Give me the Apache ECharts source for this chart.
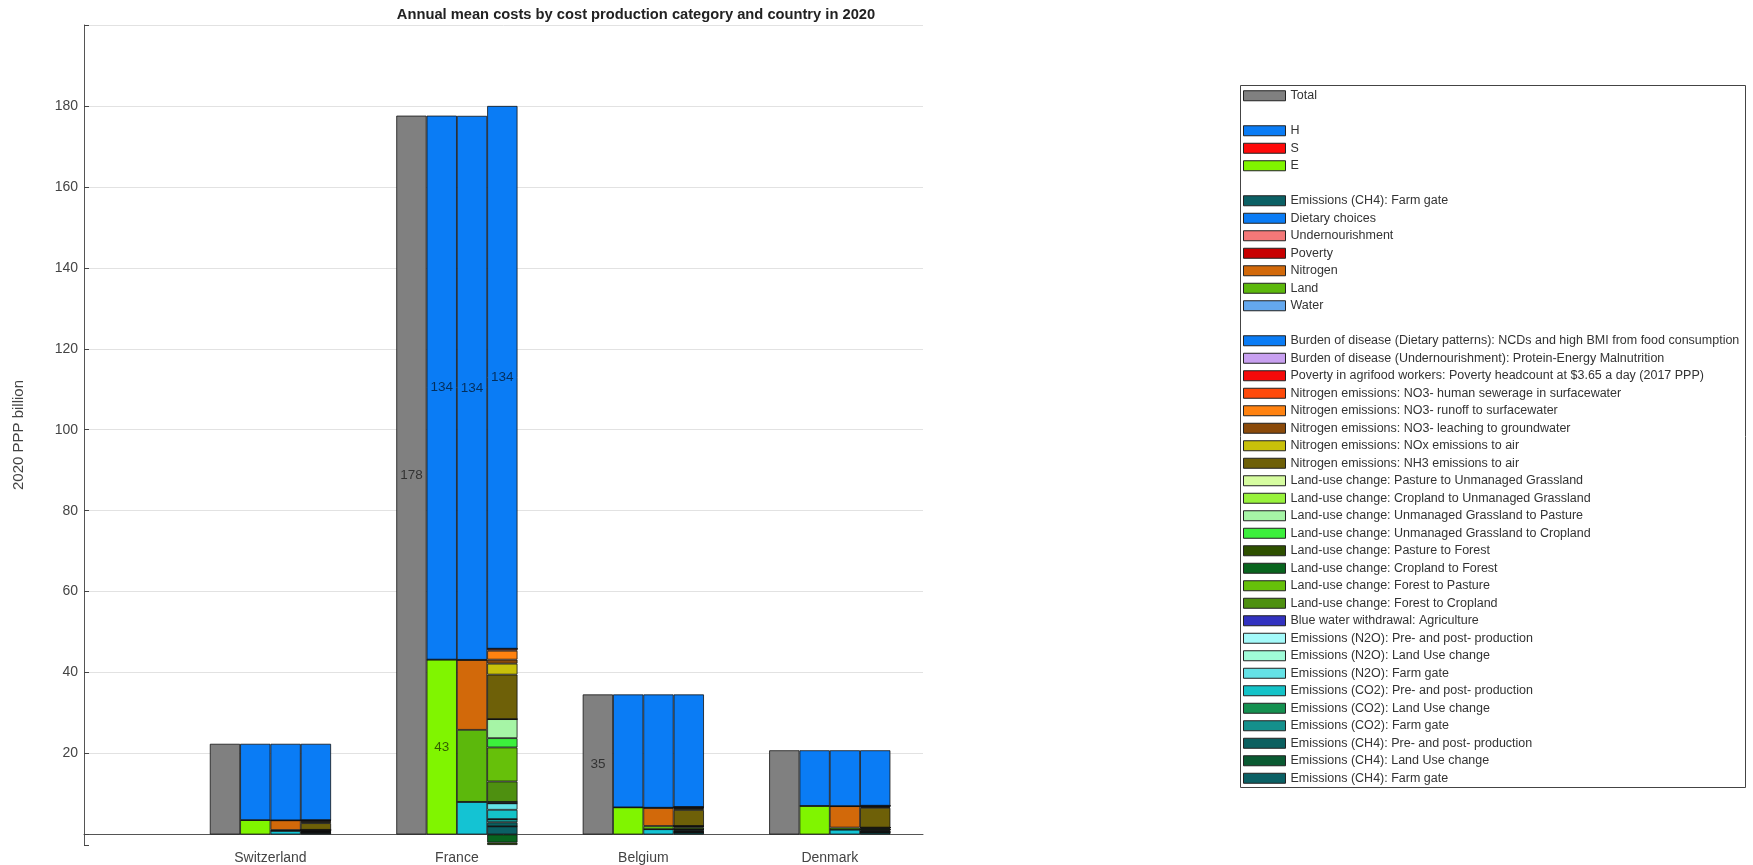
<!DOCTYPE html>
<html>
<head>
<meta charset="utf-8">
<script src="https://cdn.jsdelivr.net/npm/echarts@6/dist/echarts.min.js"></script>
<style>
  html, body { margin: 0; padding: 0; background: #ffffff; }
  #chart { width: 1753px; height: 865px; }
</style>
</head>
<body>
<div id="chart"></div>
<script>
// ---- categories and axis slots ----
const countries = ['Switzerland', 'France', 'Belgium', 'Denmark'];
// half-unit slots from 0 to 4.5; countries sit on the whole units 1..4
const xSlots = ['s0', 's1', 'Switzerland', 's3', 'France', 's5', 'Belgium', 's7', 'Denmark', 's9'];
const yTickLabels = [20, 40, 60, 80, 100, 120, 140, 160, 180];

// ---- total cost per country (2020 PPP billion) ----
const totalCost = [22.4, 177.6, 34.6, 20.8];

// ---- H / S / E split, stacked bottom-up ----
const hseNames = ['E', 'S', 'H'];
const hseColors = ['#80f500', '#ff0a0a', '#0a7cf5'];
const hseSwitzerland = [3.55, 0, 18.85];
const hseFrance = [43.2, 0, 134.4];
const hseBelgium = [6.7, 0, 27.9];
const hseDenmark = [7.05, 0, 13.75];
const hseLegend = ['H', 'S', 'E'];

// ---- cost categories, stacked bottom-up ----
const categoryNames = ['Emissions (CH4): Farm gate', 'Water', 'Land', 'Nitrogen', 'Poverty', 'Undernourishment', 'Dietary choices'];
const categoryColors = ['#14c3d3', '#64a8ee', '#5cb80c', '#d2690a', '#c80000', '#f47878', '#0a7cf5'];
const categorySwitzerland = [0.9, 0, 0.2, 2.4, 0, 0, 18.9];
const categoryFrance = [8.05, 0, 17.8, 17.3, 0, 0, 134.4];
const categoryBelgium = [1.3, 0, 0.8, 4.5, 0, 0, 28.0];
const categoryDenmark = [1.2, 0, 0.5, 5.3, 0, 0, 13.8];
const categoryLegend = ['Emissions (CH4): Farm gate', 'Dietary choices', 'Undernourishment', 'Poverty', 'Nitrogen', 'Land', 'Water'];

// ---- detailed cost items, listed top-down as in the key ----
const detailNames = [
  'Burden of disease (Dietary patterns): NCDs and high BMI from food consumption',
  'Burden of disease (Undernourishment): Protein-Energy Malnutrition',
  'Poverty in agrifood workers: Poverty headcount at $3.65 a day (2017 PPP)',
  'Nitrogen emissions: NO3- human sewerage in surfacewater',
  'Nitrogen emissions: NO3- runoff to surfacewater',
  'Nitrogen emissions: NO3- leaching to groundwater',
  'Nitrogen emissions: NOx emissions to air',
  'Nitrogen emissions: NH3 emissions to air',
  'Land-use change: Pasture to Unmanaged Grassland',
  'Land-use change: Cropland to Unmanaged Grassland',
  'Land-use change: Unmanaged Grassland to Pasture',
  'Land-use change: Unmanaged Grassland to Cropland',
  'Land-use change: Pasture to Forest',
  'Land-use change: Cropland to Forest',
  'Land-use change: Forest to Pasture',
  'Land-use change: Forest to Cropland',
  'Blue water withdrawal: Agriculture',
  'Emissions (N2O): Pre- and post- production',
  'Emissions (N2O): Land Use change',
  'Emissions (N2O): Farm gate',
  'Emissions (CO2): Pre- and post- production',
  'Emissions (CO2): Land Use change',
  'Emissions (CO2): Farm gate',
  'Emissions (CH4): Pre- and post- production',
  'Emissions (CH4): Land Use change',
  'Emissions (CH4): Farm gate'
];
const detailColors = [
  '#0a7cf5', '#c8a0f0', '#f50a0a', '#ff4a0a', '#ff8210', '#8a4a0a', '#c8c00a', '#6e6008',
  '#d6fca0', '#98f23c', '#a6f5a6', '#3cf03c', '#2e5000', '#08641e', '#66c00a', '#4e9010',
  '#3232c0', '#a4fafa', '#a0fcd8', '#64e2e6', '#14c3c8', '#149050', '#14908c', '#0b6060',
  '#0a5a32', '#0b6064'
];
const detailSwitzerland = [18.85, 0, 0, 0.1, 0.25, 0.1, 0.3, 1.65, 0, 0, 0, 0, 0, 0, 0.1, 0.1, 0, 0, 0, 0.15, 0.2, 0, 0.1, 0.1, 0, 0.4];
const detailFrance = [134.1, 0, 0, 0.5, 2.2, 1.0, 2.7, 11.0, 0, 0, 4.7, 2.3, -0.6, -2.0, 8.4, 5.05, 0, 0.35, 0, 1.6, 2.3, 0, 0.8, 1.0, 0, 2.0];
const detailBelgium = [27.8, 0, 0, 0.1, 0.2, 0.15, 0.3, 3.95, 0, 0, 0, 0, 0, 0, 0.3, 0.5, 0, 0, 0, 0.2, 0.3, 0, 0.15, 0.15, 0, 0.5];
const detailDenmark = [13.7, 0, 0, 0.05, 0.15, 0.1, 0.2, 4.9, 0, 0, 0, 0, 0, 0, 0.2, 0.3, 0, 0, 0, 0.2, 0.25, 0, 0.15, 0.1, 0, 0.5];

// colour of the key swatch shared by the two "Emissions (CH4): Farm gate" entries
const ch4FarmGateSwatch = '#0b6064';

// ---- build the bar series ----
const BAR_W = 30.3;
const labelStyle = {
  show: true,
  position: 'inside',
  fontSize: 13.5,
  color: 'rgba(0,0,0,0.62)',
  formatter: p => (p.value[1] >= 30 ? String(Math.round(p.value[1])) : '')
};

function barSeries(name, color, stack, values) {
  return {
    name: name,
    type: 'bar',
    stack: stack,
    barWidth: BAR_W,
    barGap: '0%',
    data: countries.map((c, i) => [c, values[i]]),
    itemStyle: { color: color, borderColor: '#111111', borderWidth: 0.8 },
    label: labelStyle,
    emphasis: { disabled: true }
  };
}

const series = [];
series.push(barSeries('Total', '#808080', 'total', totalCost));

const hseByCountry = [hseSwitzerland, hseFrance, hseBelgium, hseDenmark];
hseNames.forEach((n, k) => {
  series.push(barSeries(n, hseColors[k], 'hse', hseByCountry.map(a => a[k])));
});

const categoryByCountry = [categorySwitzerland, categoryFrance, categoryBelgium, categoryDenmark];
categoryNames.forEach((n, k) => {
  series.push(barSeries(n, categoryColors[k], 'category', categoryByCountry.map(a => a[k])));
});

// detail items stack from the last key entry (bottom) to the first (top)
const detailByCountry = [detailSwitzerland, detailFrance, detailBelgium, detailDenmark];
for (let k = detailNames.length - 1; k >= 0; k--) {
  series.push(barSeries(detailNames[k], detailColors[k], 'detail', detailByCountry.map(a => a[k])));
}

// ---- key ----
const FONT = '"Liberation Sans", Arial, Helvetica, sans-serif';
function legendBlock(top, names) {
  return {
    orient: 'vertical',
    left: 1243,
    top: top,
    padding: 0,
    itemGap: 0,
    itemWidth: 42,
    itemHeight: 10,
    icon: 'rect',
    selectedMode: false,
    itemStyle: { borderColor: '#222222', borderWidth: 1 },
    textStyle: { fontFamily: FONT, fontSize: 12.5, color: '#333333', lineHeight: 17.5 },
    data: names.map(n => (n === 'Emissions (CH4): Farm gate'
      ? { name: n, itemStyle: { color: ch4FarmGateSwatch } }
      : n))
  };
}

const option = {
  animation: false,
  backgroundColor: '#ffffff',
  textStyle: { fontFamily: FONT },
  title: {
    text: 'Annual mean costs by cost production category and country in 2020',
    left: 631,
    top: 2,
    textAlign: 'center',
    textStyle: { fontFamily: FONT, fontSize: 14.7, fontWeight: 'bold', color: '#222222' }
  },
  grid: { left: 84, right: 830, top: 25, bottom: 19, containLabel: false },
  xAxis: {
    type: 'category',
    data: xSlots,
    boundaryGap: false,
    axisLine: { onZero: true, lineStyle: { color: '#555555', width: 1 } },
    axisTick: { show: false },
    axisLabel: {
      interval: 0,
      margin: 6,
      fontSize: 14,
      color: '#444444',
      formatter: v => (countries.includes(v) ? v : '')
    },
    splitLine: { show: false }
  },
  yAxis: {
    type: 'value',
    min: -2.6,
    max: 200,
    splitNumber: 10,
    name: '2020 PPP billion',
    nameLocation: 'middle',
    nameGap: 58,
    nameTextStyle: { fontFamily: FONT, fontSize: 15, color: '#444444' },
    axisLine: { show: true, lineStyle: { color: '#555555', width: 1 } },
    axisTick: { show: true, inside: true, length: 5, lineStyle: { color: '#444444' } },
    axisLabel: {
      margin: 6,
      fontSize: 14,
      color: '#444444',
      formatter: v => (yTickLabels.includes(Math.round(v * 1000) / 1000) ? String(v) : '')
    },
    splitLine: { show: true, showMinLine: false, lineStyle: { color: '#e2e2e2', width: 1 } }
  },
  legend: [
    legendBlock(87, ['Total']),
    legendBlock(122, hseLegend),
    legendBlock(192, categoryLegend),
    legendBlock(332, detailNames)
  ],
  graphic: [{
    type: 'rect',
    left: 1238,
    top: 83,
    shape: { width: 505, height: 702 },
    style: { fill: 'none', stroke: '#444444', lineWidth: 1 },
    silent: true
  }],
  series: series
};

const chart = echarts.init(document.getElementById('chart'), null, { renderer: 'canvas' });
chart.setOption(option);
</script>
</body>
</html>
